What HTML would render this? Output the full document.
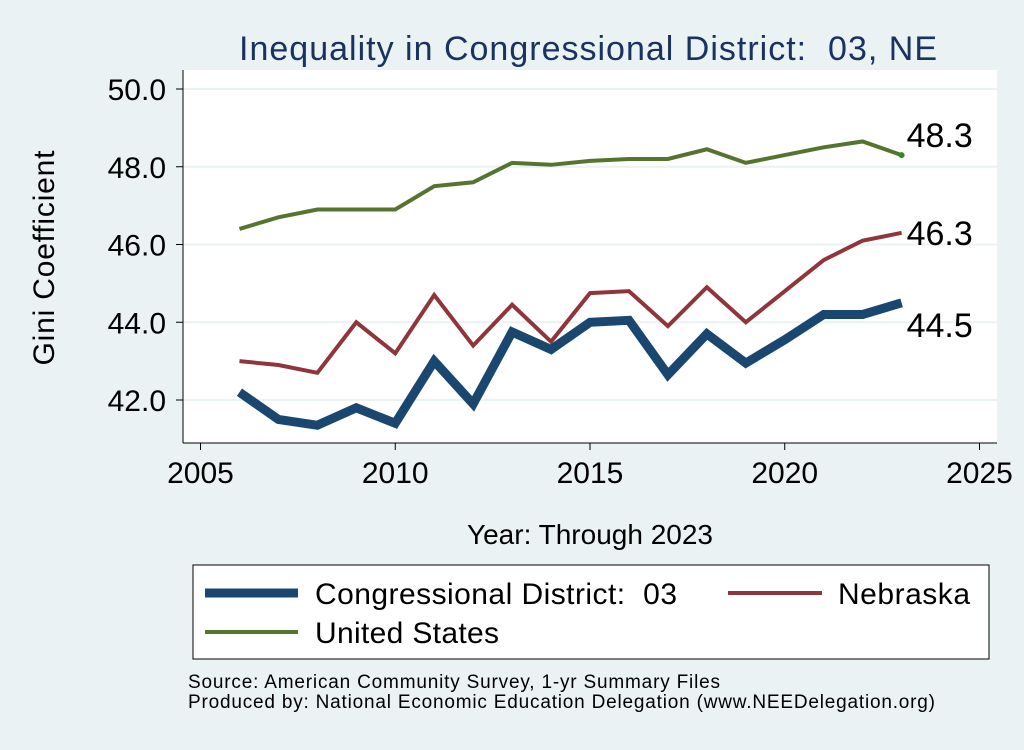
<!DOCTYPE html>
<html><head><meta charset="utf-8"><style>
body{margin:0;background:#eaf2f3;font-family:"Liberation Sans",Arial,sans-serif}
svg text{font-family:"Liberation Sans",Arial,sans-serif;white-space:pre}
</style></head><body>
<svg id="c" width="1024" height="745" xmlns="http://www.w3.org/2000/svg">
<rect x="0" y="0" width="1024" height="745" fill="#eaf2f3"/>
<rect x="183" y="70" width="814" height="373" fill="#ffffff"/>
<text x="588" y="60" font-size="34" fill="#1a3260" text-anchor="middle" textLength="698">Inequality in Congressional District:  03, NE</text>
<text transform="translate(54,258) rotate(-90)" font-size="30" text-anchor="middle" textLength="215">Gini Coefficient</text>
<text x="590" y="544" font-size="28" text-anchor="middle">Year: Through 2023</text>
<g id="grid"></g><g id="axes"></g><g id="series"></g>
<rect x="193" y="565" width="796" height="94" fill="#ffffff" stroke="#000" stroke-width="1"/>
<g><line x1="205" y1="593" x2="298" y2="593" stroke="#1a476f" stroke-width="9"/><text x="315" y="604" font-size="30" textLength="362">Congressional District:  03</text></g>
<g><line x1="728" y1="593" x2="822" y2="593" stroke="#90353b" stroke-width="4"/><text x="838" y="604" font-size="30" textLength="132">Nebraska</text></g>
<g><line x1="205" y1="632" x2="298" y2="632" stroke="#55752f" stroke-width="4"/><text x="315" y="643" font-size="30" textLength="184">United States</text></g>
<text x="188" y="688" font-size="19" textLength="532">Source: American Community Survey, 1-yr Summary Files</text>
<text x="188" y="708" font-size="19" textLength="747">Produced by: National Economic Education Delegation (www.NEEDelegation.org)</text>
</svg>
<script>
const years=[2006,2007,2008,2009,2010,2011,2012,2013,2014,2015,2016,2017,2018,2019,2020,2021,2022,2023];
const usVals=[46.4,46.7,46.9,46.9,46.9,47.5,47.6,48.1,48.05,48.15,48.2,48.2,48.45,48.1,48.3,48.5,48.65,48.3];
const neVals=[43.0,42.9,42.7,44.0,43.2,44.7,43.4,44.45,43.5,44.75,44.8,43.9,44.9,44.0,44.8,45.6,46.1,46.3];
const cdVals=[42.2,41.5,41.35,41.8,41.4,43.0,41.9,43.75,43.3,44.0,44.05,42.65,43.7,42.95,43.55,44.2,44.2,44.5];
const yTicks=[42,44,46,48,50];
const xTicks=[2005,2010,2015,2020,2025];
const NS='http://www.w3.org/2000/svg';
const xs=v=>200.5+(v-2005)*38.95;
const ys=v=>400-(v-42)*38.875;
function mk(t,a,p){const e=document.createElementNS(NS,t);for(const k in a)e.setAttribute(k,a[k]);p.appendChild(e);return e;}
const grid=document.getElementById('grid'),axes=document.getElementById('axes'),ser=document.getElementById('series');
yTicks.forEach(t=>{
 const g=mk('line',{x1:183,x2:997,y1:ys(t),y2:ys(t),stroke:'#eaf2f3','stroke-width':2},grid);
 
 
 mk('line',{x1:176,x2:183,y1:ys(t),y2:ys(t),stroke:'#000'},axes);
 const l=mk('text',{x:166,y:ys(t)+11,'font-size':30,'text-anchor':'end'},axes);l.textContent=t.toFixed(1);
 
 
});
xTicks.forEach(t=>{
 mk('line',{x1:xs(t),x2:xs(t),y1:443,y2:450,stroke:'#000'},axes);
 const l=mk('text',{x:xs(t),y:483,'font-size':30,'text-anchor':'middle'},axes);l.textContent=t;
 
 
});
const ya=mk('line',{x1:183,x2:183,y1:70,y2:443,stroke:'#000'},axes);


const xa=mk('line',{x1:183,x2:997,y1:443,y2:443,stroke:'#000'},axes);


function line(vals,col,w,name,ly,dot){
 const p=mk('polyline',{points:vals.map((v,i)=>xs(years[i])+','+ys(v)).join(' '),fill:'none',stroke:col,'stroke-width':w,'stroke-linejoin':'miter'},ser);
 
 
 const last=vals[vals.length-1];
 if(dot){const d=mk('circle',{cx:xs(years[years.length-1]),cy:ys(last),r:3,fill:'#2e8b20'},ser);
  
  }
 const t=mk('text',{x:xs(years[years.length-1])+5,y:ys(last)+ly,'font-size':34},ser);t.textContent=last.toFixed(1);
 
 
}
line(usVals,'#55752f',4,'us-line',-8,true);
line(neVals,'#90353b',4,'nebraska-line',12,false);
line(cdVals,'#1a476f',9,'district-line',34,false);
</script>
</body></html>
